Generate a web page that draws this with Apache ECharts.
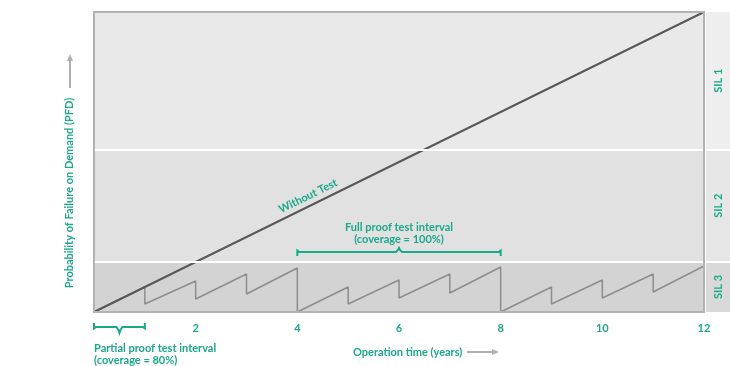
<!DOCTYPE html>
<html><head><meta charset="utf-8">
<script src="https://cdn.jsdelivr.net/npm/echarts@6/dist/echarts.min.js"></script>
<style>html,body{margin:0;padding:0;background:#fff}#c{width:730px;height:366px}</style>
</head><body><div id="c"></div>
<script>
// ---- data ----
const xTicks = [2, 4, 6, 8, 10, 12];
const withoutTest = [[0, 0], [12, 12]];
const sawtooth = [[0, 0], [1, 1.0], [1, 0.32], [2, 1.24], [2, 0.52], [3, 1.52], [3, 0.72], [4, 1.76], [4, 0],
  [5, 1.0], [5, 0.32], [6, 1.28], [6, 0.56], [7, 1.52], [7, 0.76], [8, 1.8], [8, 0],
  [9, 1.0], [9, 0.32], [10, 1.28], [10, 0.56], [11, 1.52], [11, 0.8], [12, 1.84]];
const silNames = ['SIL 3', 'SIL 2', 'SIL 1'];
const silFrom = [0, 2, 6.5];
const silTo = [2, 6.5, 12];
const partialInterval = [0, 1];
const fullInterval = [4, 8];
const withoutTestLabelAt = [4.21, 4.64];

// ---- style ----
const teal = '#1ba98b';
const font = 'Lato';
const plotColors = ['#d3d3d3', '#e1e1e1', '#e9e9e9'];
const stripColors = ['#d9d9d9', '#e6e6e6', '#eeeeee'];

const chart = echarts.init(document.getElementById('c'), null, { renderer: 'canvas' });

const option = {
  animation: false,
  backgroundColor: '#fff',
  grid: [
    { left: 94, right: 26, top: 12, bottom: 54 },
    { left: 706, right: 0, top: 12, bottom: 54 }
  ],
  xAxis: [
    { type: 'value', gridIndex: 0, min: 0, max: 12, interval: 2,
      axisLine: { show: false }, axisTick: { show: false }, splitLine: { show: false },
      axisLabel: { color: teal, fontFamily: font, fontWeight: 'bold', fontSize: 11, margin: 11,
        formatter: v => xTicks.includes(v) ? String(v) : '' } },
    { type: 'value', gridIndex: 1, min: 0, max: 1, show: false }
  ],
  yAxis: [
    { type: 'value', gridIndex: 0, min: 0, max: 12, show: false },
    { type: 'value', gridIndex: 1, min: 0, max: 12, show: false }
  ],
  series: [
    { type: 'line', xAxisIndex: 0, yAxisIndex: 0, data: [[0, 0]], symbol: 'none', z: 1,
      lineStyle: { width: 0 }, silent: true,
      markArea: { silent: true,
        data: silNames.map((n, i) => [{ yAxis: silFrom[i], itemStyle: { color: plotColors[i] } }, { yAxis: silTo[i] }]) },
      markLine: { silent: true, symbol: 'none', label: { show: false },
        lineStyle: { color: '#ffffff', width: 2, type: 'solid' },
        data: [{ yAxis: silFrom[1] }, { yAxis: silFrom[2] }] }
    },
    { type: 'line', xAxisIndex: 1, yAxisIndex: 1, data: [[0, 0]], symbol: 'none', z: 1,
      lineStyle: { width: 0 }, silent: true,
      markArea: { silent: true,
        label: { show: true, position: 'inside', rotate: 90, color: teal, fontFamily: font, fontWeight: 'bold', fontSize: 11 },
        data: silNames.map((n, i) => [{ name: n, yAxis: silFrom[i], itemStyle: { color: stripColors[i] } }, { yAxis: silTo[i] }]) },
      markLine: { silent: true, symbol: 'none', label: { show: false },
        lineStyle: { color: '#ffffff', width: 2, type: 'solid' },
        data: [{ yAxis: silFrom[1] }, { yAxis: silFrom[2] }] }
    },
    { name: 'Partial test', type: 'line', xAxisIndex: 0, yAxisIndex: 0, data: sawtooth, symbol: 'none', z: 3,
      lineStyle: { color: '#8d8d8d', width: 1.5 } },
    { name: 'Without Test', type: 'line', xAxisIndex: 0, yAxisIndex: 0, data: withoutTest, symbol: 'none', z: 4,
      lineStyle: { color: '#585858', width: 2 } }
  ]
};
chart.setOption(option);

function px(p) { return chart.convertToPixel({ gridIndex: 0 }, p); }
const tl = px([0, 12]), br = px([12, 0]);
const textBase = { fill: teal, fontFamily: font, fontWeight: 'bold', fontSize: 11 };

function bracket(x0, x1, yLine, yEnd, yTip) {
  const xm = (x0 + x1) / 2;
  const s = yEnd < yLine ? -1 : 1;
  return [[x0, yEnd], [x0, yLine - s * 1.5], [x0 + 2, yLine], [xm - 3, yLine], [xm - 1, yLine + (yTip - yLine) * 0.5],
    [xm, yTip], [xm + 1, yLine + (yTip - yLine) * 0.5], [xm + 3, yLine], [x1 - 2, yLine], [x1, yLine - s * 1.5], [x1, yEnd]];
}

const pA = px([partialInterval[0], 0]), pB = px([partialInterval[1], 0]);
const fA = px([fullInterval[0], 0]), fB = px([fullInterval[1], 0]);
const wt = px(withoutTestLabelAt);
const angle = Math.atan2(br[1] - tl[1], br[0] - tl[0]);
const fullMid = (fA[0] + fB[0]) / 2;

chart.setOption({
  graphic: [
    { type: 'rect', z: 10, silent: true,
      shape: { x: tl[0], y: tl[1], width: br[0] - tl[0], height: br[1] - tl[1] },
      style: { fill: 'none', stroke: '#b2b2b2', lineWidth: 2 } },
    // partial bracket
    { type: 'polyline', z: 10, silent: true, shape: { points: bracket(pA[0], pB[0], br[1] + 15, br[1] + 11, br[1] + 21) },
      style: { fill: 'none', stroke: teal, lineWidth: 2 } },
    { type: 'text', z: 10, silent: true, x: pA[0], y: 348,
      style: Object.assign({ text: 'Partial proof test interval', textAlign: 'left', textVerticalAlign: 'middle' }, textBase) },
    { type: 'text', z: 10, silent: true, x: pA[0], y: 360,
      style: Object.assign({ text: '(coverage = 80%)', textAlign: 'left', textVerticalAlign: 'middle' }, textBase) },
    // full bracket
    { type: 'polyline', z: 10, silent: true, shape: { points: bracket(fA[0], fB[0], 252, 256, 248) },
      style: { fill: 'none', stroke: teal, lineWidth: 2 } },
    { type: 'text', z: 10, silent: true, x: fullMid, y: 227,
      style: Object.assign({ text: 'Full proof test interval', textAlign: 'center', textVerticalAlign: 'middle' }, textBase) },
    { type: 'text', z: 10, silent: true, x: fullMid, y: 239,
      style: Object.assign({ text: '(coverage = 100%)', textAlign: 'center', textVerticalAlign: 'middle' }, textBase) },
    // Without Test label
    { type: 'text', z: 10, silent: true, x: wt[0], y: wt[1], rotation: angle,
      style: Object.assign({ text: 'Without Test', textAlign: 'center', textVerticalAlign: 'middle' }, textBase) },
    // x axis name + arrow
    { type: 'text', z: 10, silent: true, x: 353, y: 352,
      style: Object.assign({ text: 'Operation time (years)', textAlign: 'left', textVerticalAlign: 'middle' }, textBase) },
    { type: 'line', z: 10, silent: true, shape: { x1: 467, y1: 352, x2: 494, y2: 352 },
      style: { stroke: '#b0b0b0', lineWidth: 2 } },
    { type: 'polygon', z: 10, silent: true, shape: { points: [[499, 352], [492, 349], [492, 355]] },
      style: { fill: '#b0b0b0' } },
    // y axis name + arrow
    { type: 'text', z: 10, silent: true, x: 69, y: 193, rotation: Math.PI / 2,
      style: Object.assign({ text: 'Probability of Failure on Demand (PFD)', textAlign: 'center', textVerticalAlign: 'middle' }, textBase) },
    { type: 'line', z: 10, silent: true, shape: { x1: 70, y1: 88, x2: 70, y2: 60 },
      style: { stroke: '#b0b0b0', lineWidth: 2 } },
    { type: 'polygon', z: 10, silent: true, shape: { points: [[70, 54], [67, 61], [73, 61]] },
      style: { fill: '#b0b0b0' } }
  ]
});
</script>
</body></html>
